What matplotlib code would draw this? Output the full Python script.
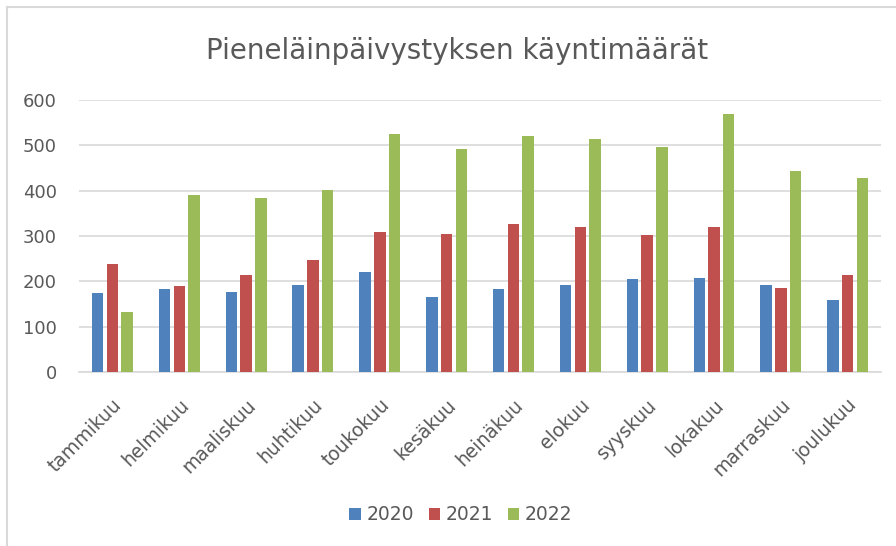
import matplotlib.pyplot as plt
from matplotlib.lines import Line2D
import numpy as np

months = ['tammikuu', 'helmikuu', 'maaliskuu', 'huhtikuu', 'toukokuu', 'kesäkuu',
          'heinäkuu', 'elokuu', 'syyskuu', 'lokakuu', 'marraskuu', 'joulukuu']
years = ['2020', '2021', '2022']
v2020 = [175, 182, 177, 193, 220, 166, 182, 193, 205, 207, 193, 159]
v2021 = [239, 190, 215, 246, 308, 305, 326, 319, 303, 319, 185, 215]
v2022 = [132, 390, 383, 401, 524, 492, 521, 513, 497, 569, 444, 429]
colors = ['#4F81BD', '#C0504D', '#9BBB59']

text_col = '#595959'
grid_col = '#d9d9d9'

fig = plt.figure(figsize=(8.96, 5.46), dpi=100)
ax = fig.add_axes([0.0882, 0.3187, 0.8951, 0.4981])

x = np.arange(len(months))
step = 0.22
width = 0.172
for i, (vals, lab) in enumerate(zip([v2020, v2021, v2022], years)):
    ax.bar(x + (i - 1) * step, vals, width, color=colors[i], label=lab, zorder=3)

ax.set_xlim(-0.5, len(months) - 0.5)
ax.set_ylim(0, 600)
ax.set_yticks(range(0, 601, 100))
ax.grid(axis='y', color=grid_col, linewidth=1.2, zorder=0)
for s in ['top', 'right', 'left']:
    ax.spines[s].set_visible(False)
ax.spines['bottom'].set_color(grid_col)
ax.spines['bottom'].set_linewidth(1.2)

ax.tick_params(axis='y', length=0, labelsize=13, labelcolor=text_col, pad=16)
ax.tick_params(axis='x', length=0, labelsize=13.5, labelcolor=text_col, pad=17)
ax.set_xticks(x)
ax.set_xticklabels(months, rotation=45, ha='right', va='top', rotation_mode='anchor')

fig.text(457 / 896, 1 - 51 / 546, 'Pieneläinpäivystyksen käyntimäärät', ha='center', va='center',
         fontsize=20, color=text_col)

leg = fig.legend(loc='center', bbox_to_anchor=(461 / 896, 1 - 515 / 546), ncol=3, frameon=False,
                 handlelength=0.6, handleheight=0.6, handletextpad=0.3, columnspacing=0.8,
                 fontsize=13.5)
for t in leg.get_texts():
    t.set_color(text_col)

# chart frame
fig.add_artist(Line2D([7 / 896, 1], [1 - 7 / 546, 1 - 7 / 546], color=grid_col, linewidth=1.5))
fig.add_artist(Line2D([7 / 896, 7 / 896], [0, 1 - 7 / 546], color=grid_col, linewidth=1.5))

plt.savefig('out.png', dpi=100)
